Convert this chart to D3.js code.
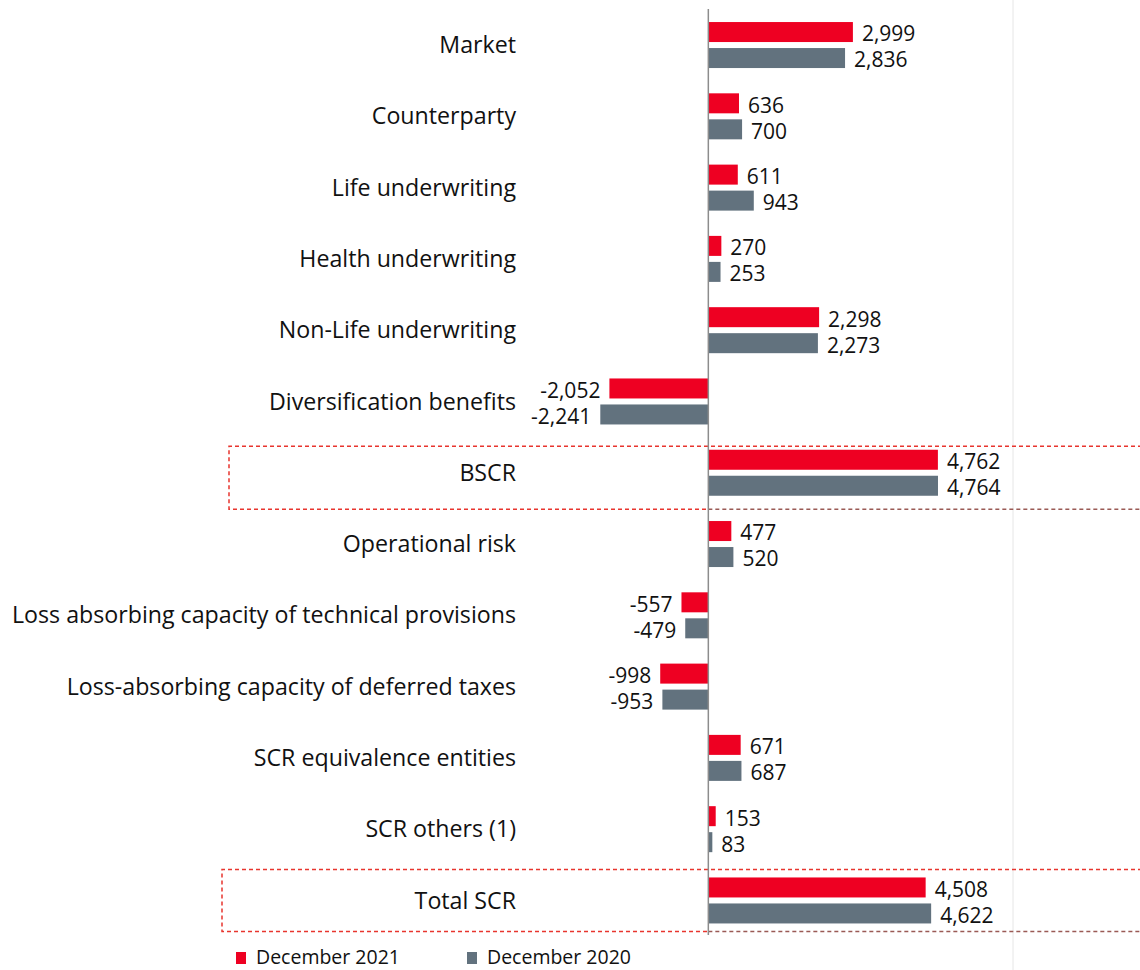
<!DOCTYPE html>
<html>
<head>
<meta charset="utf-8">
<script src="https://cdn.jsdelivr.net/npm/d3@7"></script>
<style>
  body { margin: 0; background: #fff; }
  svg { display: block; font-family: "Open Sans", sans-serif; }
</style>
</head>
<body>
<svg width="1140" height="970"></svg>
<script>
// data
var categories = [
  "Market", "Counterparty", "Life underwriting", "Health underwriting",
  "Non-Life underwriting", "Diversification benefits", "BSCR",
  "Operational risk", "Loss absorbing capacity of technical provisions",
  "Loss-absorbing capacity of deferred taxes", "SCR equivalence entities",
  "SCR others (1)", "Total SCR"
];
var dec2021 = [2999, 636, 611, 270, 2298, -2052, 4762, 477, -557, -998, 671, 153, 4508];
var dec2020 = [2836, 700, 943, 253, 2273, -2241, 4764, 520, -479, -953, 687, 83, 4622];
var seriesNames = ["December 2021", "December 2020"];
var gridValues = [6320];

var colors = ["#ee0022", "#62727e"];

var svg = d3.select("svg");
// plain hyphen for negatives, like the original
var fmt = d3.formatLocale({ decimal: ".", thousands: ",", grouping: [3], currency: ["", ""], minus: "-" }).format(",");

var x = d3.scaleLinear().domain([-4000, 6320]).range([515.5, 1013]);
var y = d3.scaleBand().domain(categories).range([9.4, 936.1]);
var bandH = y.bandwidth();
var barH = 20, gap = 6;

// light gridline
svg.selectAll(".grid")
  .data(gridValues)
  .enter().append("line")
  .attr("x1", function(d) { return x(d); })
  .attr("x2", function(d) { return x(d); })
  .attr("y1", 0).attr("y2", 970)
  .attr("stroke", "#e6e6e6").attr("stroke-width", 1);

// dashed highlight boxes
var boxes = [
  { cat: "BSCR", left: 229, top: -26.5, bottom: 36.5 },
  { cat: "Total SCR", left: 222, top: -31, bottom: 31 }
];
boxes.forEach(function(b) {
  var c = y(b.cat) + bandH / 2;
  var y0 = c + b.top, y1 = c + b.bottom;
  var g = svg.append("g").attr("fill", "none").attr("stroke-width", 1.5)
    .attr("stroke-dasharray", "4,3");
  g.append("path")
    .attr("d", "M1142," + y0 + "H" + b.left + "V" + y1 + "H" + x(0))
    .attr("stroke", "#e8352e");
  g.append("path")
    .attr("d", "M" + x(0) + "," + y1 + "H1142")
    .attr("stroke", "#9a5a55");
});

var rows = categories.map(function(c, i) {
  return { cat: c, vals: [dec2021[i], dec2020[i]] };
});

var rowG = svg.selectAll(".row")
  .data(rows)
  .enter().append("g")
  .attr("class", "row")
  .attr("transform", function(d) { return "translate(0," + (y(d.cat) + bandH / 2) + ")"; });

rowG.append("text")
  .attr("x", 516)
  .attr("y", 0)
  .attr("dy", "0.35em")
  .attr("text-anchor", "end")
  .attr("font-size", 23.2)
  .attr("fill", "#111")
  .text(function(d) { return d.cat; });

rowG.selectAll("rect")
  .data(function(d) { return d.vals; })
  .enter().append("rect")
  .attr("x", function(v) { return x(Math.min(0, v)); })
  .attr("y", function(v, j) { return j === 0 ? -gap / 2 - barH : gap / 2; })
  .attr("width", function(v) { return Math.abs(x(v) - x(0)); })
  .attr("height", barH)
  .attr("fill", function(v, j) { return colors[j]; });

rowG.selectAll(".val")
  .data(function(d) { return d.vals; })
  .enter().append("text")
  .attr("class", "val")
  .attr("x", function(v) { return v >= 0 ? x(v) + 9 : x(v) - 9; })
  .attr("y", function(v, j) { return (j === 0 ? -gap / 2 - barH / 2 : gap / 2 + barH / 2) + 2; })
  .attr("dy", "0.35em")
  .attr("text-anchor", function(v) { return v >= 0 ? "start" : "end"; })
  .attr("font-size", 21)
  .attr("fill", "#111")
  .text(function(v) { return fmt(v); });

// zero axis
svg.append("line")
  .attr("x1", x(0)).attr("x2", x(0))
  .attr("y1", 9).attr("y2", 935)
  .attr("stroke", "#8c8c8c").attr("stroke-width", 1.5);

// legend
var legendX = [236, 467];
var leg = svg.selectAll(".leg")
  .data(seriesNames)
  .enter().append("g")
  .attr("transform", function(d, i) { return "translate(" + legendX[i] + ",952)"; });
leg.append("rect").attr("width", 10).attr("height", 12)
  .attr("fill", function(d, i) { return colors[i]; });
leg.append("text")
  .attr("x", 20).attr("y", 5.5).attr("dy", "0.35em")
  .attr("font-size", 19.5)
  .attr("fill", "#111")
  .text(function(d) { return d; });
</script>
</body>
</html>
